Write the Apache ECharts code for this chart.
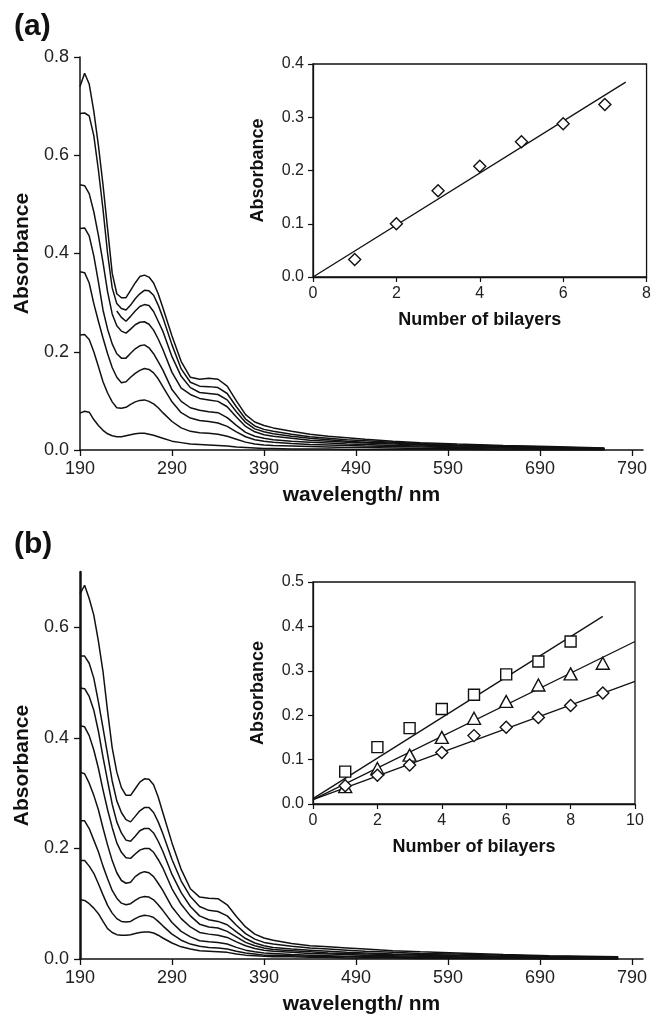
<!DOCTYPE html>
<html>
<head>
<meta charset="utf-8">
<script src="https://cdn.jsdelivr.net/npm/echarts@6/dist/echarts.min.js"></script>
<style>
  html, body { margin: 0; padding: 0; background: #fff; }
  #chart { width: 654px; height: 1019px; }
</style>
</head>
<body>
<div id="chart"></div>
<script>
// ---- panel (a) spectra ----
const wavelengthA = [190, 195, 200, 205, 210, 215, 220, 225, 230, 235, 240, 245, 250, 255, 260, 265, 270, 275, 280, 290, 300, 310, 320, 330, 340, 350, 360, 370, 380, 390, 400, 420, 440, 460, 480, 500, 530, 560, 600, 650, 700, 760];
const specA1 = [0.74, 0.767, 0.745, 0.69, 0.62, 0.54, 0.45, 0.36, 0.318, 0.31, 0.31, 0.325, 0.34, 0.353, 0.356, 0.352, 0.34, 0.318, 0.29, 0.232, 0.18, 0.148, 0.144, 0.146, 0.144, 0.13, 0.1, 0.072, 0.057, 0.05, 0.045, 0.038, 0.032, 0.028, 0.025, 0.022, 0.018, 0.015, 0.012, 0.009, 0.007, 0.004];
const specA2 = [0.685, 0.686, 0.68, 0.64, 0.57, 0.49, 0.4, 0.33, 0.298, 0.288, 0.285, 0.295, 0.308, 0.318, 0.325, 0.324, 0.315, 0.295, 0.27, 0.214, 0.165, 0.138, 0.13, 0.129, 0.127, 0.115, 0.088, 0.063, 0.049, 0.042, 0.038, 0.032, 0.027, 0.024, 0.021, 0.019, 0.016, 0.013, 0.01, 0.008, 0.006, 0.003];
const specA3 = [null, null, null, null, null, null, null, null, 0.283, 0.27, 0.262, 0.272, 0.283, 0.292, 0.296, 0.294, 0.282, 0.262, 0.242, 0.19, 0.15, 0.127, 0.117, 0.115, 0.113, 0.102, 0.078, 0.056, 0.043, 0.037, 0.033, 0.028, 0.024, 0.021, 0.018, 0.016, 0.014, 0.011, 0.009, 0.007, 0.005, 0.003];
const specA4 = [0.54, 0.538, 0.522, 0.485, 0.437, 0.382, 0.322, 0.277, 0.253, 0.242, 0.238, 0.246, 0.255, 0.26, 0.261, 0.256, 0.244, 0.226, 0.205, 0.158, 0.126, 0.113, 0.105, 0.102, 0.099, 0.088, 0.067, 0.048, 0.037, 0.031, 0.028, 0.024, 0.02, 0.018, 0.016, 0.014, 0.012, 0.01, 0.008, 0.006, 0.004, 0.002];
const specA5 = [0.451, 0.452, 0.436, 0.395, 0.342, 0.285, 0.246, 0.216, 0.196, 0.187, 0.187, 0.197, 0.206, 0.212, 0.214, 0.208, 0.196, 0.18, 0.163, 0.123, 0.099, 0.086, 0.081, 0.078, 0.076, 0.066, 0.05, 0.036, 0.028, 0.024, 0.021, 0.018, 0.016, 0.014, 0.012, 0.011, 0.009, 0.008, 0.006, 0.005, 0.003, 0.002];
const specA6 = [0.363, 0.361, 0.34, 0.298, 0.262, 0.228, 0.196, 0.168, 0.148, 0.137, 0.139, 0.148, 0.156, 0.162, 0.166, 0.164, 0.157, 0.145, 0.129, 0.098, 0.076, 0.065, 0.06, 0.058, 0.055, 0.048, 0.037, 0.027, 0.021, 0.018, 0.016, 0.013, 0.011, 0.01, 0.009, 0.008, 0.007, 0.006, 0.005, 0.004, 0.003, 0.001];
const specA7 = [0.234, 0.235, 0.225, 0.2, 0.17, 0.139, 0.116, 0.098, 0.086, 0.085, 0.087, 0.093, 0.098, 0.101, 0.102, 0.099, 0.094, 0.086, 0.076, 0.058, 0.045, 0.038, 0.035, 0.034, 0.032, 0.028, 0.022, 0.016, 0.012, 0.01, 0.009, 0.008, 0.007, 0.006, 0.005, 0.005, 0.004, 0.003, 0.003, 0.002, 0.002, 0.001];
const specA8 = [0.075, 0.079, 0.077, 0.062, 0.05, 0.04, 0.033, 0.029, 0.027, 0.027, 0.029, 0.031, 0.033, 0.034, 0.034, 0.032, 0.03, 0.027, 0.024, 0.018, 0.015, 0.012, 0.011, 0.01, 0.009, 0.008, 0.006, 0.005, 0.004, 0.003, 0.003, 0.002, 0.002, 0.002, 0.001, 0.001, 0.001, 0.001, 0.001, 0, 0, 0];

// ---- panel (b) spectra ----
const wavelengthB = [190, 195, 200, 205, 210, 215, 220, 225, 230, 235, 240, 245, 250, 255, 260, 265, 270, 275, 280, 290, 300, 310, 320, 330, 340, 350, 360, 370, 380, 390, 400, 420, 440, 460, 480, 500, 530, 560, 600, 650, 700, 775];
const specB1 = [0.66, 0.676, 0.652, 0.622, 0.575, 0.52, 0.448, 0.382, 0.338, 0.31, 0.296, 0.296, 0.308, 0.32, 0.326, 0.325, 0.315, 0.293, 0.265, 0.21, 0.162, 0.127, 0.112, 0.11, 0.109, 0.098, 0.077, 0.058, 0.045, 0.038, 0.034, 0.028, 0.024, 0.022, 0.02, 0.018, 0.015, 0.013, 0.011, 0.008, 0.006, 0.004];
const specB2 = [0.548, 0.548, 0.535, 0.508, 0.465, 0.418, 0.37, 0.322, 0.286, 0.265, 0.252, 0.248, 0.258, 0.268, 0.274, 0.274, 0.265, 0.248, 0.227, 0.18, 0.141, 0.113, 0.095, 0.088, 0.086, 0.078, 0.061, 0.046, 0.036, 0.03, 0.027, 0.023, 0.02, 0.018, 0.016, 0.014, 0.012, 0.01, 0.009, 0.007, 0.005, 0.003];
const specB3 = [0.49, 0.489, 0.475, 0.45, 0.412, 0.365, 0.322, 0.28, 0.248, 0.228, 0.215, 0.213, 0.222, 0.232, 0.236, 0.236, 0.228, 0.213, 0.195, 0.153, 0.12, 0.095, 0.078, 0.071, 0.068, 0.062, 0.049, 0.037, 0.029, 0.024, 0.021, 0.018, 0.016, 0.014, 0.012, 0.011, 0.009, 0.008, 0.007, 0.005, 0.004, 0.002];
const specB4 = [0.422, 0.42, 0.404, 0.378, 0.345, 0.306, 0.27, 0.238, 0.21, 0.193, 0.183, 0.182, 0.19, 0.197, 0.2, 0.2, 0.193, 0.18, 0.165, 0.127, 0.099, 0.078, 0.063, 0.058, 0.056, 0.05, 0.04, 0.03, 0.024, 0.02, 0.017, 0.015, 0.013, 0.011, 0.01, 0.009, 0.008, 0.007, 0.006, 0.004, 0.003, 0.002];
const specB5 = [0.338, 0.335, 0.318, 0.296, 0.27, 0.237, 0.206, 0.178, 0.156, 0.142, 0.137, 0.139, 0.149, 0.155, 0.158, 0.156, 0.149, 0.137, 0.124, 0.094, 0.073, 0.058, 0.048, 0.045, 0.043, 0.039, 0.031, 0.024, 0.019, 0.016, 0.014, 0.012, 0.01, 0.009, 0.008, 0.007, 0.006, 0.005, 0.004, 0.003, 0.002, 0.001];
const specB6 = [0.25, 0.25, 0.236, 0.215, 0.194, 0.168, 0.145, 0.124, 0.11, 0.101, 0.098, 0.1, 0.106, 0.111, 0.113, 0.112, 0.107, 0.098, 0.088, 0.066, 0.05, 0.04, 0.033, 0.031, 0.03, 0.027, 0.021, 0.016, 0.013, 0.011, 0.01, 0.008, 0.007, 0.006, 0.005, 0.005, 0.004, 0.003, 0.003, 0.002, 0.001, 0.001];
const specB7 = [0.178, 0.178, 0.168, 0.155, 0.136, 0.116, 0.097, 0.083, 0.073, 0.068, 0.067, 0.068, 0.073, 0.077, 0.079, 0.078, 0.075, 0.068, 0.06, 0.045, 0.034, 0.027, 0.023, 0.021, 0.02, 0.018, 0.014, 0.011, 0.009, 0.007, 0.007, 0.006, 0.005, 0.004, 0.004, 0.003, 0.003, 0.002, 0.002, 0.001, 0.001, 0];
const specB8 = [0.107, 0.106, 0.1, 0.092, 0.082, 0.068, 0.055, 0.048, 0.044, 0.043, 0.043, 0.044, 0.046, 0.048, 0.049, 0.049, 0.047, 0.043, 0.038, 0.029, 0.022, 0.018, 0.015, 0.014, 0.013, 0.012, 0.009, 0.007, 0.006, 0.005, 0.004, 0.004, 0.003, 0.003, 0.002, 0.002, 0.002, 0.001, 0.001, 0.001, 0, 0];

// ---- insets ----
const bilayersA = [1, 2, 3, 4, 5, 6, 7];
const insetAbsA = [0.033, 0.100, 0.162, 0.208, 0.254, 0.288, 0.324];
const fitA = [[0, 0], [7.5, 0.366]];

const bilayersB = [1, 2, 3, 4, 5, 6, 7, 8, 9];
const squaresB = [0.073, 0.128, 0.171, 0.214, 0.246, 0.292, 0.321, 0.366];
const trianglesB = [0.039, 0.080, 0.110, 0.150, 0.193, 0.231, 0.268, 0.293, 0.317];
const diamondsB = [0.041, 0.065, 0.088, 0.116, 0.154, 0.173, 0.195, 0.222, 0.250];
const fitSquaresB = [[0, 0.012], [9, 0.4225]];
const fitTrianglesB = [[0, 0.010], [10, 0.366]];
const fitDiamondsB = [[0, 0.010], [10, 0.276]];

// ---- tick labels ----
const wavelengthTicks = [190, 290, 390, 490, 590, 690, 790];
const absTicksB = [0, 0.2, 0.4, 0.6];

const FONT = "'Liberation Sans', Arial, Helvetica, sans-serif";
const INK = "#111";

function pairs(xs, ys) {
  return xs.map((x, i) => [x, ys[i]]);
}

function spectrum(xs, ys, idx) {
  return {
    type: "line",
    xAxisIndex: idx,
    yAxisIndex: idx,
    data: pairs(xs, ys),
    showSymbol: false,
    symbol: "none",
    connectNulls: false,
    lineStyle: { color: INK, width: 1.5 },
    silent: true,
  };
}

function fitLine(pts, idx) {
  return {
    type: "line",
    xAxisIndex: idx,
    yAxisIndex: idx,
    data: pts,
    symbol: "none",
    lineStyle: { color: INK, width: 1.3 },
    silent: true,
    z: 3,
  };
}

function markers(xs, ys, idx, symbol, size) {
  return {
    type: "scatter",
    xAxisIndex: idx,
    yAxisIndex: idx,
    data: pairs(xs, ys),
    symbol: symbol,
    symbolSize: size,
    itemStyle: { color: "#fff", borderColor: INK, borderWidth: 1.4, opacity: 1 },
    silent: true,
    z: 4,
  };
}

function mainX(idx) {
  return {
    type: "value",
    gridIndex: idx,
    min: 190,
    max: 802,
    name: "wavelength/ nm",
    nameLocation: "middle",
    nameGap: 35,
    nameTextStyle: { fontFamily: FONT, fontWeight: "bold", fontSize: 21, color: INK },
    axisLine: { show: true, onZero: false, lineStyle: { color: INK, width: 1.5 } },
    axisTick: { show: true, inside: false, length: 6, customValues: wavelengthTicks, lineStyle: { color: INK, width: 1.3 } },
    axisLabel: { customValues: wavelengthTicks, fontFamily: FONT, fontSize: 18, color: "#222", margin: 10 },
    splitLine: { show: false },
  };
}

function mainY(idx, max, ticks, lineWidth) {
  const y = {
    type: "value",
    gridIndex: idx,
    min: 0,
    max: max,
    name: "Absorbance",
    nameLocation: "middle",
    nameGap: 47,
    nameTextStyle: { fontFamily: FONT, fontWeight: "bold", fontSize: 21, color: INK },
    axisLine: { show: true, onZero: false, lineStyle: { color: INK, width: lineWidth } },
    axisTick: { show: true, inside: false, length: 6, lineStyle: { color: INK, width: 1.3 } },
    axisLabel: { fontFamily: FONT, fontSize: 18, color: "#222", margin: 11, formatter: (v) => v.toFixed(1) },
    splitLine: { show: false },
  };
  if (ticks) {
    y.axisTick.customValues = ticks;
    y.axisLabel.customValues = ticks;
  } else {
    y.interval = 0.2;
  }
  return y;
}

function insetX(idx, max) {
  return {
    type: "value",
    gridIndex: idx,
    min: 0,
    max: max,
    interval: 2,
    name: "Number of bilayers",
    nameLocation: "middle",
    nameGap: 34,
    nameTextStyle: { fontFamily: FONT, fontWeight: "bold", fontSize: 18, color: INK },
    axisLine: { show: true, onZero: false, lineStyle: { color: INK, width: 1.3 } },
    axisTick: { show: true, inside: false, length: 5, lineStyle: { color: INK, width: 1.2 } },
    axisLabel: { fontFamily: FONT, fontSize: 16, color: "#222", margin: 9 },
    splitLine: { show: false },
  };
}

function insetY(idx, max) {
  return {
    type: "value",
    gridIndex: idx,
    min: 0,
    max: max,
    interval: 0.1,
    name: "Absorbance",
    nameLocation: "middle",
    nameGap: 46,
    nameTextStyle: { fontFamily: FONT, fontWeight: "bold", fontSize: 18, color: INK },
    axisLine: { show: true, onZero: false, lineStyle: { color: INK, width: 1.3 } },
    axisTick: { show: true, inside: false, length: 5, lineStyle: { color: INK, width: 1.2 } },
    axisLabel: { fontFamily: FONT, fontSize: 16, color: "#222", margin: 9, formatter: (v) => v.toFixed(1) },
    splitLine: { show: false },
  };
}

const chart = echarts.init(document.getElementById("chart"), null, { renderer: "canvas" });

const specsA = [specA1, specA2, specA3, specA4, specA5, specA6, specA7, specA8];
const specsB = [specB1, specB2, specB3, specB4, specB5, specB6, specB7, specB8];

chart.setOption({
  animation: false,
  backgroundColor: "#fff",
  grid: [
    { left: 80, top: 57, width: 563, height: 393 },
    { left: 313, top: 64, width: 335, height: 213, show: true, borderColor: INK, borderWidth: 1.3, backgroundColor: "transparent" },
    { left: 80, top: 572, width: 563, height: 387 },
    { left: 313, top: 582, width: 322, height: 222, show: true, borderColor: INK, borderWidth: 1.3, backgroundColor: "transparent" },
  ],
  xAxis: [mainX(0), insetX(1, 8), mainX(2), insetX(3, 10)],
  yAxis: [mainY(0, 0.8, null, 1.5), insetY(1, 0.4), mainY(2, 0.7, absTicksB, 2.5), insetY(3, 0.5)],
  graphic: [
    { type: "text", left: 14, top: 12, style: { text: "(a)", font: "bold 30px " + FONT, fill: INK } },
    { type: "text", left: 14, top: 530, style: { text: "(b)", font: "bold 30px " + FONT, fill: INK } },
  ],
  series: [
    ...specsA.map((s) => spectrum(wavelengthA, s, 0)),
    fitLine(fitA, 1),
    markers(bilayersA, insetAbsA, 1, "diamond", 12),
    ...specsB.map((s) => spectrum(wavelengthB, s, 2)),
    fitLine(fitSquaresB, 3),
    fitLine(fitTrianglesB, 3),
    fitLine(fitDiamondsB, 3),
    markers(bilayersB.slice(0, squaresB.length), squaresB, 3, "rect", 11),
    markers(bilayersB, trianglesB, 3, "triangle", [13, 12]),
    markers(bilayersB, diamondsB, 3, "diamond", 12),
  ],
});
</script>
</body>
</html>
